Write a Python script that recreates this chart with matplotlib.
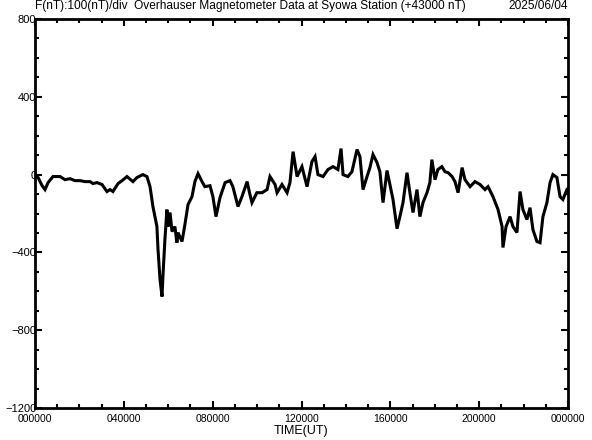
import matplotlib
matplotlib.use("Agg")
import matplotlib.pyplot as plt
from matplotlib.ticker import MultipleLocator

# hours since 00 UT and F deviation (nT) from 43000 nT
hours = [0.00, 0.14, 0.32, 0.45, 0.59, 0.81, 1.13, 1.35, 1.58, 1.80,
         2.03, 2.25, 2.48, 2.61, 2.79, 3.02, 3.24, 3.38, 3.51, 3.74,
         3.92, 4.14, 4.41, 4.59, 4.86, 5.04, 5.18, 5.31, 5.49, 5.54,
         5.63, 5.72, 5.76, 5.85, 5.94, 5.99, 6.08, 6.17, 6.30, 6.39,
         6.44, 6.62, 6.75, 6.89, 7.07, 7.20, 7.34, 7.52, 7.65, 7.88,
         8.01, 8.15, 8.33, 8.56, 8.78, 8.91, 9.14, 9.32, 9.55, 9.68,
         9.77, 9.99, 10.22, 10.45, 10.58, 10.81, 10.90, 11.12, 11.35, 11.48,
         11.62, 11.80, 12.02, 12.25, 12.47, 12.61, 12.74, 12.97, 13.19, 13.42,
         13.64, 13.78, 13.87, 14.09, 14.27, 14.50, 14.63, 14.77, 14.95, 15.08,
         15.22, 15.40, 15.53, 15.67, 15.85, 15.98, 16.12, 16.30, 16.43, 16.57,
         16.75, 16.88, 17.02, 17.20, 17.33, 17.47, 17.65, 17.78, 17.87, 18.01,
         18.14, 18.32, 18.46, 18.60, 18.78, 18.91, 19.05, 19.23, 19.36, 19.59,
         19.81, 20.04, 20.26, 20.40, 20.62, 20.85, 21.03, 21.07, 21.21, 21.39,
         21.52, 21.70, 21.84, 21.97, 22.15, 22.29, 22.42, 22.60, 22.74, 22.87,
         23.05, 23.19, 23.32, 23.50, 23.64, 23.77, 23.95]
f_nt = [-5, -15, -57, -77, -41, -10, -10, -26, -21, -31,
        -31, -36, -36, -46, -41, -51, -87, -77, -87, -46,
        -31, -10, -36, -15, 0, -10, -62, -164, -267, -386,
        -540, -627, -524, -334, -180, -267, -195, -293, -267, -350,
        -298, -344, -257, -154, -113, -36, 5, -36, -62, -57,
        -113, -216, -118, -41, -31, -62, -164, -113, -36, -103,
        -144, -93, -93, -77, -10, -51, -93, -51, -93, -41,
        118, -10, 41, -62, 67, 93, 0, -10, 26, 41,
        26, 134, 0, -10, 15, 129, 93, -77, -10, 36,
        103, 62, 15, -144, 21, -51, -128, -278, -216, -144,
        10, -93, -195, -77, -216, -144, -93, -41, 77, -26,
        26, 41, 15, 10, -10, -36, -93, 36, -26, -62,
        -36, -51, -77, -62, -113, -180, -267, -375, -267, -216,
        -267, -298, -87, -180, -231, -170, -283, -344, -350, -216,
        -144, -41, 0, -15, -113, -128, -77]

xtick_pos = [0, 4, 8, 12, 16, 20, 24]
xtick_lab = ["000000", "040000", "080000", "120000", "160000", "200000", "000000"]
ytick_pos = [-1200, -800, -400, 0, 400, 800]

plt.rcParams['font.family'] = ['Liberation Sans', 'DejaVu Sans']

fig = plt.figure(figsize=(5.92, 4.40), dpi=100)
ax = fig.add_axes([0.0591, 0.0727, 0.9004, 0.8841])
ax.plot(hours, f_nt, color='black', lw=2.2, solid_joinstyle='miter')

ax.set_xlim(0, 24)
ax.set_ylim(-1200, 800)
ax.set_xticks(xtick_pos)
ax.set_xticklabels(xtick_lab)
ax.xaxis.set_minor_locator(MultipleLocator(1))
ax.set_yticks(ytick_pos)
ax.yaxis.set_minor_locator(MultipleLocator(100))
ax.tick_params(which='both', direction='in', top=True, right=True,
               width=1.5, labelsize=7.5, color='black')
ax.tick_params(which='major', length=5)
ax.tick_params(which='minor', length=3)
ax.tick_params(axis='y', pad=-1, labelsize=8)
ax.tick_params(axis='x', pad=4)
for s in ax.spines.values():
    s.set_linewidth(2)

ax.set_xlabel("TIME(UT)", fontsize=9, labelpad=1)
fig.text(0.0591, 0.972, "F(nT):100(nT)/div  Overhauser Magnetometer Data at Syowa Station (+43000 nT)",
         fontsize=8.6, ha='left', va='bottom')
fig.text(0.9595, 0.972, "2025/06/04", fontsize=8.6, ha='right', va='bottom')

fig.savefig("out.png", dpi=100)
